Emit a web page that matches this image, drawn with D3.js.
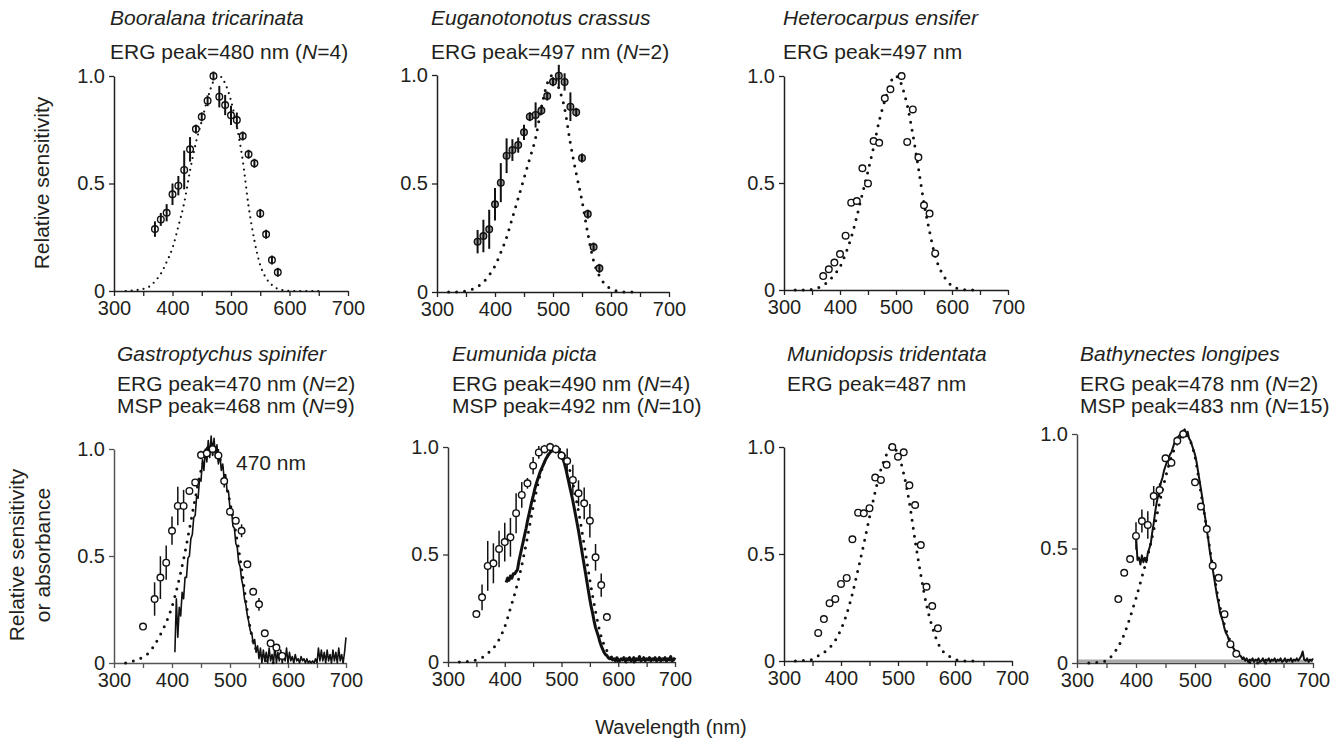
<!DOCTYPE html>
<html>
<head>
<meta charset="utf-8">
<script src="https://cdn.jsdelivr.net/npm/d3@7"></script>
<style>
body { margin: 0; background: #fff; }
text { font-family: "Liberation Sans", Arial, sans-serif; fill: #231f20; }
</style>
</head>
<body>
<svg id="fig" width="1343" height="742"></svg>
<script>
'use strict';

// ---- Booralana tricarinata ----
var ergWl1 = [370,380,390,400,410,420,430,440,450,460,470,480,490,500,510,520,530,540,550,560,570,580];
var erg1 = [0.288,0.333,0.364,0.45,0.49,0.563,0.659,0.753,0.81,0.885,1.0,0.904,0.865,0.817,0.795,0.721,0.636,0.594,0.361,0.264,0.144,0.087];
var ergErr1 = [0.036,0.03,0.04,0.05,0.045,0.09,0.057,0.02,0.02,0.025,0,0.05,0.047,0.045,0.035,0.015,0.012,0.012,0.02,0.015,0.015,0];
var tplWl1 = [320,340,360,370,380,390,400,410,420,430,440,450,460,470,480,490,500,510,520,530,540,550,560,570,580,590,600,620,650];
var tpl1 = [0,0.005,0.02,0.045,0.08,0.135,0.2,0.3,0.41,0.56,0.69,0.79,0.895,0.975,1.0,0.965,0.885,0.764,0.609,0.395,0.235,0.12,0.06,0.028,0.01,0.003,0,0,0];

// ---- Euganotonotus crassus ----
var ergWl2 = [370,380,390,400,410,420,430,440,450,460,470,480,490,500,510,520,530,540,550,560,570,580];
var erg2 = [0.232,0.258,0.289,0.404,0.504,0.628,0.654,0.677,0.736,0.808,0.816,0.836,0.903,0.969,0.997,0.968,0.854,0.828,0.618,0.359,0.207,0.109];
var ergErr2 = [0.054,0.075,0.09,0.075,0.09,0.08,0.05,0.035,0.035,0.015,0.058,0.015,0.012,0.012,0.05,0.04,0.066,0.015,0.012,0.012,0.012,0.012];
var tplWl2 = [320,335,350,360,370,380,390,400,410,420,430,440,450,460,470,480,490,500,510,520,530,540,550,560,570,580,590,600,610,620,640];
var tpl2 = [0,0,0.005,0.012,0.025,0.045,0.078,0.12,0.182,0.252,0.342,0.432,0.524,0.616,0.71,0.85,0.96,1.0,0.94,0.846,0.685,0.547,0.42,0.27,0.143,0.074,0.035,0.015,0.005,0,0];

// ---- Heterocarpus ensifer ----
var ergWl3 = [370,380,390,400,410,420,430,440,450,460,470,480,490,510,520,530,540,550,560,570];
var erg3 = [0.065,0.097,0.128,0.168,0.254,0.408,0.416,0.569,0.498,0.696,0.688,0.896,0.938,1.0,0.692,0.844,0.62,0.396,0.357,0.171];
var tplWl3 = [320,340,350,360,370,380,390,400,410,420,430,440,450,460,470,480,490,497,505,510,520,530,540,550,560,570,580,590,600,610,620,640];
var tpl3 = [0,0,0.003,0.01,0.022,0.042,0.072,0.108,0.17,0.245,0.343,0.45,0.555,0.668,0.79,0.885,0.965,1.0,0.99,0.958,0.864,0.728,0.57,0.405,0.273,0.158,0.09,0.047,0.019,0.007,0.002,0];

// ---- Gastroptychus spinifer ----
var ergWl4 = [350,370,380,390,400,410,420,430,440,450,460,470,480,490,500,510,520,530,540,550,560,570,580,590];
var erg4 = [0.17,0.299,0.399,0.469,0.618,0.734,0.734,0.804,0.844,0.972,0.98,1.0,0.97,0.85,0.707,0.665,0.618,0.461,0.333,0.274,0.139,0.092,0.072,0.033];
var ergErr4 = [0,0.078,0.1,0.08,0.066,0.09,0.075,0.015,0.015,0.02,0.03,0.03,0.03,0.03,0.015,0.015,0.03,0.01,0.01,0.03,0.01,0.01,0.01,0];
var tplWl4 = [320,330,340,350,360,370,380,390,400,410,420,430,440,450,460,468,475,480,490,500,510,520,530,540,550,560,570,580];
var tpl4 = [0,0.007,0.015,0.028,0.048,0.085,0.133,0.19,0.263,0.365,0.485,0.625,0.768,0.9,0.975,1.0,0.99,0.97,0.88,0.75,0.61,0.44,0.24,0.1,0.042,0.012,0.003,0];
var mspStart4 = 405;
var msp4 = [
  0.05,0.30,0.12,0.26,0.22,0.33,0.30,0.40,0.40,0.49,
  0.50,0.58,0.60,0.68,0.69,0.78,0.77,0.86,0.85,0.95,
  0.90,1.00,0.94,1.04,0.96,1.06,0.97,1.05,0.96,1.02,
  0.93,0.98,0.90,0.93,0.86,0.88,0.80,0.80,0.72,0.72,
  0.64,0.63,0.56,0.54,0.47,0.45,0.39,0.36,0.30,0.27,
  0.22,0.19,0.15,0.14,0.09,0.11,0.05,0.08,0.02,0.07,
  0.00,0.06,0.01,0.05,0.00,0.07,0.01,0.04,0.00,0.08,
  0.00,0.05,0.01,0.06,0.00,0.04,0.01,0.07,0.00,0.05,
  0.01,0.03,0.00,0.04,0.01,0.02,0.00,0.03,0.01,0.02,
  0.00,0.02,0.00,0.01,0.00,0.01,0.00,0.02,0.00,0.07,
  0.01,0.06,0.01,0.05,0.00,0.06,0.01,0.04,0.00,0.06,
  0.01,0.05,0.00,0.07,0.01,0.04,0.00,0.05,0.12];

// ---- Eumunida picta ----
var ergWl5 = [350,360,370,380,390,400,410,420,430,440,450,460,470,480,490,500,510,520,530,540,550,560,570,580];
var erg5 = [0.223,0.301,0.447,0.459,0.526,0.558,0.58,0.692,0.777,0.831,0.913,0.975,0.99,1.0,0.99,0.96,0.935,0.847,0.785,0.738,0.657,0.487,0.358,0.209];
var ergErr5 = [0,0.06,0.116,0.093,0.085,0.09,0.09,0.093,0.06,0.025,0.04,0.03,0.02,0.02,0.02,0.02,0.058,0.07,0.06,0.074,0.078,0.062,0.054,0];
var tplWl5 = [320,340,350,360,370,380,390,400,410,420,430,440,450,460,470,480,490,500,510,520,530,540,550,560,570,580,590,600,610,640];
var tpl5 = [0,0.004,0.01,0.02,0.04,0.065,0.105,0.164,0.25,0.34,0.45,0.58,0.72,0.845,0.93,0.98,1.0,0.98,0.935,0.83,0.7,0.545,0.381,0.235,0.118,0.053,0.018,0.004,0,0];
var mspStart5 = 402.5;
var msp5 = [
  0.37,0.39,0.38,0.40,0.39,0.41,0.41,0.42,0.43,0.47,
  0.50,0.53,0.56,0.59,0.62,0.655,0.685,0.715,0.745,0.77,
  0.80,0.825,0.845,0.865,0.885,0.90,0.915,0.93,0.945,0.955,
  0.965,0.975,0.98,0.99,0.995,1.0,0.995,0.985,0.975,0.96,
  0.945,0.925,0.90,0.87,0.84,0.81,0.78,0.75,0.715,0.68,
  0.645,0.61,0.57,0.53,0.49,0.45,0.41,0.37,0.33,0.29,
  0.255,0.225,0.19,0.16,0.14,0.12,0.095,0.075,0.06,0.045,
  0.035,0.03,0.02,0.015,0.02,0.01,0.015,0.005,0.02,0.01,
  0.005,0.015,0.01,0.02,0.005,0.015,0.01,0.02,0.005,0.01,
  0.02,0.005,0.015,0.01,0.025,0.005,0.01,0.02,0.005,0.015,
  0.01,0.02,0.005,0.015,0.01,0.02,0.005,0.01,0.02,0.005,
  0.015,0.01,0.02,0.005,0.015,0.01,0.025,0.005,0.01,0.02];

// ---- Munidopsis tridentata ----
var ergWl6 = [360,370,380,390,400,410,420,430,440,450,460,470,480,490,500,510,520,530,540,550,560,570];
var erg6 = [0.131,0.196,0.27,0.29,0.36,0.388,0.569,0.693,0.69,0.714,0.857,0.846,0.917,1.0,0.955,0.975,0.821,0.729,0.542,0.347,0.257,0.153];
var tplWl6 = [320,335,350,360,370,380,390,400,410,420,430,440,450,460,470,480,487,495,500,510,520,530,540,550,560,570,580,590,600,610,620,645];
var tpl6 = [0,0.002,0.007,0.024,0.04,0.062,0.096,0.148,0.22,0.315,0.428,0.546,0.672,0.79,0.895,0.965,1.0,0.99,0.97,0.875,0.74,0.563,0.403,0.262,0.16,0.085,0.042,0.022,0.008,0.002,0,0];

// ---- Bathynectes longipes ----
var ergWl7 = [370,380,390,400,410,420,430,440,450,460,470,480,500,510,520,530,540,550,560,570];
var erg7 = [0.279,0.394,0.454,0.555,0.62,0.603,0.729,0.755,0.894,0.875,0.97,1.0,0.789,0.683,0.585,0.425,0.372,0.213,0.082,0.04];
var ergErr7 = [0,0,0,0.06,0.05,0.06,0.044,0.03,0.015,0.015,0.02,0.02,0.015,0.015,0.015,0.015,0.015,0.015,0.01,0.01];
var tplWl7 = [320,340,350,360,370,380,390,400,410,420,430,440,450,460,470,483,490,500,510,520,530,540,550,560,570,580,590,600,620];
var tpl7 = [0,0.004,0.01,0.035,0.072,0.125,0.2,0.283,0.375,0.47,0.58,0.7,0.81,0.9,0.96,1.0,0.98,0.9,0.745,0.585,0.42,0.275,0.165,0.095,0.052,0.022,0.005,0,0];
var mspStart7 = 400;
var msp7 = [
  0.56,0.45,0.46,0.43,0.47,0.44,0.46,0.44,0.48,0.50,
  0.52,0.57,0.61,0.66,0.70,0.73,0.76,0.79,0.81,0.84,
  0.86,0.88,0.89,0.91,0.92,0.94,0.96,0.97,0.98,0.99,
  1.00,1.00,1.01,1.02,1.00,1.01,0.98,0.97,0.95,0.93,
  0.91,0.88,0.84,0.80,0.76,0.72,0.67,0.63,0.58,0.54,
  0.49,0.45,0.41,0.37,0.33,0.29,0.26,0.22,0.20,0.18,
  0.15,0.13,0.12,0.10,0.085,0.075,0.065,0.055,0.05,0.04,
  0.035,0.03,0.02,0.025,0.01,0.02,0.005,0.015,0.01,0.02,
  0.005,0.015,0.01,0.02,0.005,0.01,0.02,0.005,0.015,0.01,
  0.02,0.005,0.015,0.01,0.02,0.005,0.015,0.01,0.02,0.005,
  0.01,0.02,0.005,0.015,0.01,0.02,0.005,0.015,0.01,0.02,
  0.01,0.02,0.03,0.05,0.015,0.01,0.02,0.005,0.015,0.01,
  0.02];
var mspStep = 2.5;

var xTicks = [300,350,400,450,500,550,600,650,700];
var yTicks = [0,0.5,1];

var svg = d3.select('#fig');

// layout of each panel; header lines are written top to bottom
var panels = [
  {x0:114, x1:348, y0:291, y1:76, tx:110, ty:[25,59], axisCol:'#231f20',
   lines:[['i','Booralana tricarinata'],['ERG peak=480 nm (','4',')']],
   wl:ergWl1, v:erg1, err:ergErr1, tw:tplWl1, t:tpl1, dotW:2.2, dotGap:6, mk:'phi', fill:'#fff'},
  {x0:437, x1:669, y0:292, y1:75, tx:431, ty:[25,59], axisCol:'#231f20',
   lines:[['i','Euganotonotus crassus'],['ERG peak=497 nm (','2',')']],
   wl:ergWl2, v:erg2, err:ergErr2, tw:tplWl2, t:tpl2, dotW:3, dotGap:8, mk:'phi', fill:'#9a9a9a'},
  {x0:784, x1:1008, y0:290, y1:76, tx:783, ty:[25,59], axisCol:'#231f20',
   lines:[['i','Heterocarpus ensifer'],['ERG peak=497 nm']],
   wl:ergWl3, v:erg3, err:null, tw:tplWl3, t:tpl3, dotW:3, dotGap:8, mk:'open', fill:'#fff'},
  {x0:114, x1:346, y0:663, y1:449, tx:117, ty:[361,391,413], axisCol:'#555',
   lines:[['i','Gastroptychus spinifer'],['ERG peak=470 nm (','2',')'],['MSP peak=468 nm (','9',')']],
   wl:ergWl4, v:erg4, err:ergErr4, tw:tplWl4, t:tpl4, dotW:3, dotGap:8, mk:'open', fill:'#fff',
   msp:msp4, mspStart:mspStart4, mspW:1.6},
  {x0:448, x1:675, y0:662, y1:447, tx:452, ty:[361,391,413], axisCol:'#333',
   lines:[['i','Eumunida picta'],['ERG peak=490 nm (','4',')'],['MSP peak=492 nm (','10',')']],
   wl:ergWl5, v:erg5, err:ergErr5, tw:tplWl5, t:tpl5, dotW:3, dotGap:8, mk:'open', fill:'#fff',
   msp:msp5, mspStart:mspStart5, mspW:3},
  {x0:784, x1:1012, y0:661, y1:447, tx:787, ty:[361,391], axisCol:'#231f20',
   lines:[['i','Munidopsis tridentata'],['ERG peak=487 nm']],
   wl:ergWl6, v:erg6, err:null, tw:tplWl6, t:tpl6, dotW:3, dotGap:8, mk:'open', fill:'#fff'},
  {x0:1077, x1:1313, y0:663, y1:434, tx:1080, ty:[361,391,413], axisCol:'#444',
   lines:[['i','Bathynectes longipes'],['ERG peak=478 nm (','2',')'],['MSP peak=483 nm (','15',')']],
   wl:ergWl7, v:erg7, err:ergErr7, tw:tplWl7, t:tpl7, dotW:3, dotGap:8, mk:'open', fill:'#fff',
   msp:msp7, mspStart:mspStart7, mspW:2, baseBand:true}
];

function drawPanel(p) {
  var x = d3.scaleLinear().domain([300,700]).range([p.x0,p.x1]);
  var y = d3.scaleLinear().domain([0,1]).range([p.y0,p.y1]);
  var g = svg.append('g');

  // header text
  p.lines.forEach(function(ln, i){
    var t = g.append('text').attr('x', p.tx).attr('y', p.ty[i]).attr('font-size', 21);
    if (ln[0] === 'i') {
      t.attr('font-style','italic').text(ln[1]);
    } else if (ln.length === 1) {
      t.text(ln[0]);
    } else {
      t.append('tspan').text(ln[0]);
      t.append('tspan').attr('font-style','italic').text('N');
      t.append('tspan').text('=' + ln[1] + ln[2]);
    }
  });

  if (p.baseBand) {
    g.append('line').attr('x1', x(300)).attr('x2', x(700))
      .attr('y1', y(0) - 2).attr('y2', y(0) - 2)
      .attr('stroke', '#a8a8a8').attr('stroke-width', 3);
  }

  var xa = g.append('g').attr('transform','translate(0,' + p.y0 + ')')
    .call(d3.axisBottom(x).tickValues(xTicks).tickSize(5).tickSizeOuter(0).tickPadding(5)
      .tickFormat(function(d){ return d % 100 === 0 ? d : ''; }));
  var ya = g.append('g').attr('transform','translate(' + p.x0 + ',0)')
    .call(d3.axisLeft(y).tickValues(yTicks).tickSize(5).tickSizeOuter(0).tickPadding(4)
      .tickFormat(function(d){ return d === 0 ? '0' : d3.format('.1f')(d); }));
  [xa, ya].forEach(function(a){
    a.attr('font-size', 20).attr('font-family', '"Liberation Sans", Arial, sans-serif');
    a.select('.domain').attr('stroke', p.axisCol).attr('stroke-width', 1.5);
    a.selectAll('.tick line').attr('stroke', p.axisCol).attr('stroke-width', 1.3);
    a.selectAll('.tick text').attr('fill', '#231f20');
  });

  var line = d3.line()
    .x(function(d){ return x(d[0]); })
    .y(function(d){ return y(d[1]); });

  // template curve (dotted)
  g.append('path').datum(d3.zip(p.tw, p.t))
    .attr('d', line.curve(d3.curveMonotoneX))
    .attr('fill','none').attr('stroke','#111')
    .attr('stroke-width', p.dotW).attr('stroke-linecap','round')
    .attr('stroke-dasharray', '0,' + p.dotGap);

  // MSP absorbance spectrum
  if (p.msp) {
    var mspData = p.msp.map(function(v, i){ return [p.mspStart + i*mspStep, v]; });
    g.append('path').datum(mspData)
      .attr('d', line.curve(d3.curveLinear))
      .attr('fill','none').attr('stroke','#111')
      .attr('stroke-width', p.mspW).attr('stroke-linejoin','round');
  }

  var pts = p.wl.map(function(w, i){ return {w:w, v:p.v[i], e:p.err ? p.err[i] : 0}; });

  function bars(sel, minHalf) {
    sel.selectAll(null).data(pts).enter().append('line')
      .attr('x1', function(d){ return x(d.w); }).attr('x2', function(d){ return x(d.w); })
      .attr('y1', function(d){ return Math.min(y(d.v + d.e), y(d.v) - minHalf); })
      .attr('y2', function(d){ return Math.max(y(d.v - d.e), y(d.v) + minHalf); })
      .attr('stroke','#111').attr('stroke-width', p.mk === 'phi' ? 2 : 1.5);
  }

  if (p.err && p.mk !== 'phi') bars(g, 0);

  g.selectAll(null).data(pts).enter().append('circle')
    .attr('cx', function(d){ return x(d.w); })
    .attr('cy', function(d){ return y(d.v); })
    .attr('r', 3.3)
    .attr('fill', p.fill).attr('stroke','#111').attr('stroke-width', 1.4);

  if (p.mk === 'phi') bars(g, 4.5);
}

panels.forEach(drawPanel);

// extra annotation in the Gastroptychus panel
svg.append('text').attr('x', 236).attr('y', 470).attr('font-size', 21).text('470 nm');

// axis titles
svg.append('text').attr('transform','translate(49,183) rotate(-90)')
  .attr('text-anchor','middle').attr('font-size', 21).text('Relative sensitivity');
svg.append('text').attr('transform','translate(24,555) rotate(-90)')
  .attr('text-anchor','middle').attr('font-size', 21).text('Relative sensitivity');
svg.append('text').attr('transform','translate(50,555) rotate(-90)')
  .attr('text-anchor','middle').attr('font-size', 21).text('or absorbance');
svg.append('text').attr('x', 671).attr('y', 734)
  .attr('text-anchor','middle').attr('font-size', 20).text('Wavelength (nm)');
</script>
</body>
</html>
